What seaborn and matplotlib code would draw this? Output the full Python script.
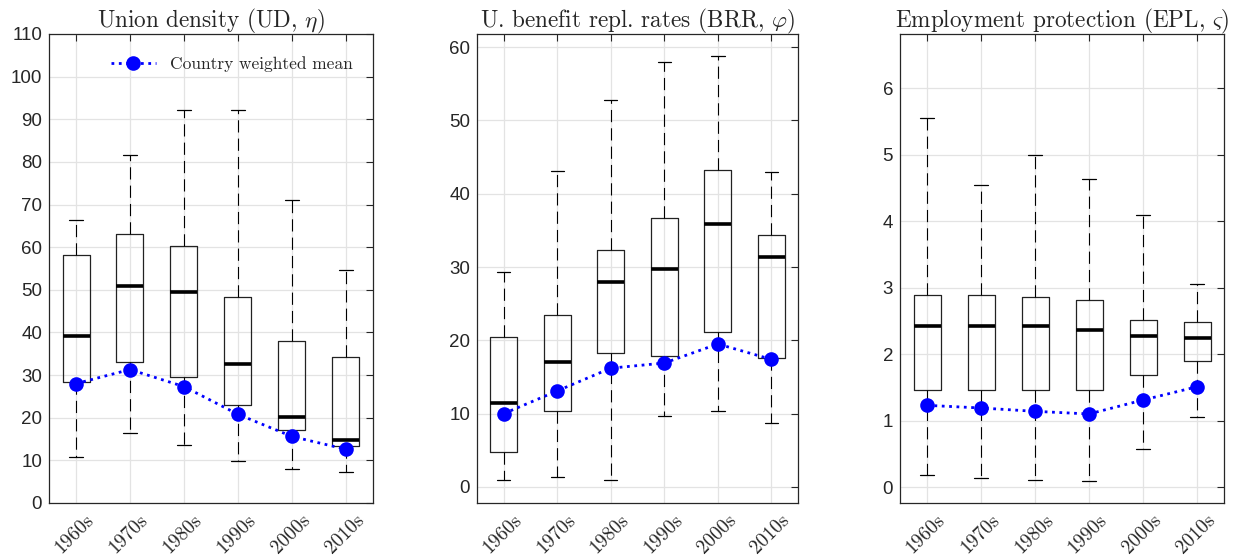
import numpy as np
import pandas as pd
import matplotlib
matplotlib.use("Agg")
import matplotlib.pyplot as plt
import matplotlib.transforms as mtransforms
import seaborn as sns

decades = ["1960s", "1970s", "1980s", "1990s", "2000s", "2010s"]

# Union density: lower whisker, q1, median, q3, upper whisker, weighted mean
ud_low = [10.9, 16.3, 13.6, 9.8, 8.0, 7.3]
ud_q1 = [28.4, 33.1, 29.6, 22.9, 17.2, 13.4]
ud_med = [39.1, 50.9, 49.4, 32.7, 20.1, 14.8]
ud_q3 = [58.2, 63.1, 60.3, 48.4, 38.0, 34.3]
ud_high = [66.4, 81.7, 92.2, 92.2, 71.0, 54.6]
ud_mean = [28.0, 31.3, 27.3, 20.8, 15.6, 12.6]

# Benefit replacement rates
brr_low = [1.0, 1.4, 0.9, 9.7, 10.3, 8.7]
brr_q1 = [4.7, 10.4, 18.3, 17.9, 21.1, 17.6]
brr_med = [11.5, 17.1, 28.0, 29.7, 35.9, 31.3]
brr_q3 = [20.5, 23.5, 32.3, 36.7, 43.2, 34.4]
brr_high = [29.3, 43.1, 52.8, 58.0, 58.8, 42.9]
brr_mean = [10.0, 13.1, 16.2, 16.9, 19.5, 17.4]

# Employment protection
epl_low = [0.18, 0.13, 0.10, 0.09, 0.57, 1.05]
epl_q1 = [1.46, 1.46, 1.46, 1.46, 1.69, 1.89]
epl_med = [2.42, 2.42, 2.42, 2.36, 2.28, 2.24]
epl_q3 = [2.89, 2.89, 2.86, 2.81, 2.52, 2.48]
epl_high = [5.55, 4.55, 5.00, 4.63, 4.09, 3.05]
epl_mean = [1.23, 1.19, 1.14, 1.10, 1.31, 1.51]

titles = [r"Union density (UD, $\eta$)",
          r"U. benefit repl. rates (BRR, $\varphi$)",
          r"Employment protection (EPL, $\varsigma$)"]


def long_table(low, q1, med, q3, high):
    # five points per decade -> quartiles land exactly on q1/med/q3
    rows = []
    for i, d in enumerate(decades):
        for v in (low[i], q1[i], med[i], q3[i], high[i]):
            rows.append({"decade": d, "value": v})
    return pd.DataFrame(rows)


panels = [
    (long_table(ud_low, ud_q1, ud_med, ud_q3, ud_high), ud_mean, (0, 110), np.arange(0, 111, 10)),
    (long_table(brr_low, brr_q1, brr_med, brr_q3, brr_high), brr_mean, (-2.2, 61.8), np.arange(0, 61, 10)),
    (long_table(epl_low, epl_q1, epl_med, epl_q3, epl_high), epl_mean, (-0.24, 6.82), np.arange(0, 7, 1)),
]

sns.set_style("white")
plt.rcParams["mathtext.fontset"] = "cm"
plt.rcParams["font.family"] = ["Liberation Sans", "DejaVu Sans"]

fig = plt.figure(figsize=(12.41, 5.6), dpi=100)
lefts = [0.0395, 0.3844, 0.7253]
widths = [0.261, 0.2587, 0.261]
shift = mtransforms.ScaledTranslation(0.09, 0, fig.dpi_scale_trans)

for k, (df, means, ylim, yticks) in enumerate(panels):
    ax = fig.add_axes([lefts[k], 0.1018, widths[k], 0.8375])
    sns.boxplot(data=df, x="decade", y="value", order=decades, whis=np.inf,
                width=0.5, fill=False, color="black", linewidth=0.9,
                medianprops={"linewidth": 2.6, "color": "black"},
                whiskerprops={"linestyle": (0, (11, 5.5)), "color": "black", "linewidth": 0.8},
                capprops={"color": "black", "linewidth": 0.9},
                boxprops={"color": "#222222"}, ax=ax)
    # shorter caps like the MATLAB default
    for line in ax.lines:
        xd = np.asarray(line.get_xdata(), dtype=float)
        yd = np.asarray(line.get_ydata(), dtype=float)
        if len(xd) == 2 and yd[0] == yd[1] and line.get_linewidth() < 1.5:
            c = xd.mean()
            line.set_xdata([c - 0.125, c + 0.125])
    sns.pointplot(x=decades, y=means, order=decades, color="blue", linestyle=":",
                  marker="o", markersize=9, linewidth=2, errorbar=None, ax=ax)
    ax.set_xlim(-0.5, 5.5)
    ax.set_ylim(*ylim)
    ax.set_yticks(yticks)
    ax.set_xlabel("")
    ax.set_ylabel("")
    ax.grid(True, color="#e3e3e3", linewidth=0.9)
    ax.set_axisbelow(True)
    for s in ax.spines.values():
        s.set_color("#262626")
        s.set_linewidth(0.9)
    ax.tick_params(axis="both", direction="in", top=True, right=True, length=5,
                   width=0.8, color="#262626")
    ax.tick_params(axis="y", labelsize=13.5, labelcolor="#262626", pad=5)
    ax.set_xticks(range(len(decades)))
    ax.set_xticklabels(decades, rotation=45, ha="right", rotation_mode="anchor",
                       family="cmr10", fontsize=14)
    ax.tick_params(axis="x", pad=6)
    for lab in ax.get_xticklabels():
        lab.set_transform(lab.get_transform() + shift)
    ax.set_title(titles[k], family="cmr10", fontsize=16.7, pad=5)
    if k == 0:
        handle = ax.lines[-1]
        ax.legend([handle], ["Country weighted mean"], loc="upper right",
                  frameon=False, prop={"family": "cmr10", "size": 12.5},
                  handlelength=2.6, borderaxespad=0.5, bbox_to_anchor=(0.985, 0.985))

fig.savefig("out.png", dpi=100)
